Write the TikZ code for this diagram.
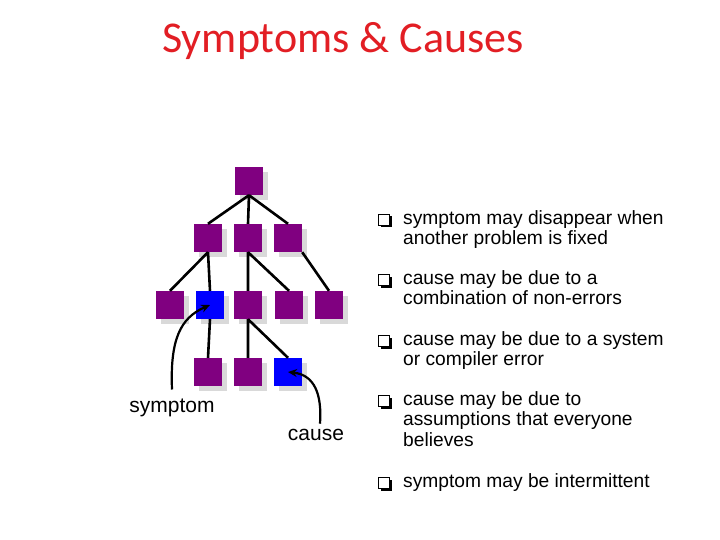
\documentclass[tikz,border=0pt]{standalone}
\usepackage{fontspec}
\setmainfont{Liberation Sans}
\newfontfamily\titlefont{Carlito}
\usetikzlibrary{arrows.meta}
\definecolor{treepurple}{RGB}{128,0,128}
\definecolor{treeblue}{RGB}{0,0,255}
\definecolor{titlered}{RGB}{226,30,36}
\tikzset{
  tbox/.style={minimum size=28pt,inner sep=0pt,fill=treepurple,
    preaction={fill=black!15,transform canvas={shift={(5pt,-5pt)}}}},
  bbox/.style={tbox,fill=treeblue},
  edge/.style={line width=2.6pt},
  bul/.style={draw,line width=1.4pt,minimum size=11pt,inner sep=0pt,
    preaction={fill=black,transform canvas={shift={(2pt,-2pt)}}},fill=white},
  btext/.style={anchor=north west,align=left,font=\fontsize{19.2}{20.5}\selectfont,inner sep=0pt}
}
\begin{document}
\begin{tikzpicture}[x=1pt,y=-1pt]
\useasboundingbox (0,0) rectangle (720,540);
% title
\node[font=\titlefont\fontsize{44}{48}\selectfont,text=titlered] (title) at (343,41) {Symptoms \& Causes};
% tree
\node[tbox] (r) at (249,181) {};
\node[tbox] (a) at (208,238) {};
\node[tbox] (b) at (248,238) {};
\node[tbox] (c) at (288,238) {};
\node[tbox] (a1) at (170,305) {};
\node[bbox] (a2) at (210,305) {};
\node[tbox] (b1) at (248,305) {};
\node[tbox] (b2) at (289,305) {};
\node[tbox] (c1) at (329,305) {};
\node[tbox] (d1) at (208,372) {};
\node[tbox] (d2) at (248,372) {};
\node[bbox] (d3) at (288,372) {};
\draw[edge] (r.south) -- (a.north) (r.south) -- (b.north) (r.south) -- (c.north);
\draw[edge] (a.south) -- (a1.north) (a.south) -- (a2.north);
\draw[edge] (b.south) -- (b1.north) (b.south) -- (b2.north);
\draw[edge] (c.south east) -- (c1.north);
\draw[edge] (a2.south) -- (d1.north);
\draw[edge] (b1.south) -- (d2.north) (b1.south) -- (d3.north);
% labels
\node[font=\fontsize{21}{24}\selectfont] (sym) at (172,408) {symptom};
\node[font=\fontsize{21}{24}\selectfont] (cau) at (316,435) {cause};
\draw[line width=2.2pt,-{Stealth[length=9pt,width=8pt]}] (sym.north) ++(0,-6) coordinate (s0)
  (s0) .. controls (170,340) and (180,318) .. (a2.center);
\draw[line width=2.2pt,-{Stealth[length=9pt,width=8pt]}] (cau.north) ++(4,-2) coordinate (c0)
  (c0) .. controls (322,395) and (315,375) .. (d3.center);
% bullets
\foreach \y/\t in {220/{symptom may disappear when\\another problem is fixed},
                   280/{cause may be due to a\\combination of non-errors},
                   341/{cause may be due to a system\\or compiler error},
                   401/{cause may be due to\\assumptions that everyone\\believes},
                   483/{symptom may be intermittent}}{
  \node[bul] at (384,\y) {};
  \node[btext] at (403,\y-10) {\t};
}
\end{tikzpicture}
\end{document}
